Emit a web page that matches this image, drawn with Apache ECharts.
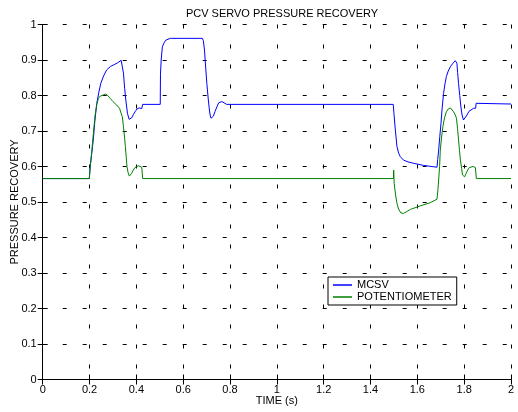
<!DOCTYPE html>
<html>
<head>
<meta charset="utf-8">
<script src="https://cdn.jsdelivr.net/npm/echarts@6/dist/echarts.min.js"></script>
<style>
html,body{margin:0;padding:0;background:#fff;}
#c{width:518px;height:412px;}
</style>
</head>
<body>
<div id="c"></div>
<script>
var titleText = 'PCV SERVO PRESSURE RECOVERY';
var xName = 'TIME (s)';
var yName = 'PRESSURE RECOVERY';
var seriesNames = ['MCSV', 'POTENTIOMETER'];

var mcsvT = [0,0.199,0.203,0.21,0.216,0.223,0.231,0.24,0.248,0.26,0.273,0.29,0.302,0.32,0.335,0.34,0.345,0.35,0.355,0.362,0.369,0.375,0.38,0.387,0.394,0.403,0.412,0.423,0.426,0.427,0.502,0.503,0.506,0.511,0.518,0.526,0.545,0.682,0.686,0.691,0.696,0.701,0.707,0.712,0.716,0.719,0.724,0.729,0.736,0.744,0.751,0.758,0.765,0.772,0.786,1.497,1.499,1.5,1.506,1.513,1.52,1.527,1.541,1.56,1.584,1.627,1.684,1.687,1.691,1.696,1.701,1.706,1.712,1.718,1.724,1.732,1.741,1.752,1.762,1.766,1.769,1.772,1.776,1.781,1.786,1.791,1.797,1.803,1.812,1.82,1.826,1.84,1.849,1.851,2.0];
var mcsvV = [0.566,0.566,0.6,0.64,0.675,0.73,0.778,0.81,0.834,0.855,0.872,0.882,0.886,0.892,0.899,0.895,0.863,0.82,0.787,0.75,0.733,0.733,0.737,0.746,0.754,0.762,0.765,0.763,0.763,0.775,0.775,0.86,0.9,0.937,0.948,0.956,0.961,0.961,0.955,0.928,0.88,0.834,0.79,0.759,0.742,0.736,0.736,0.742,0.755,0.768,0.779,0.783,0.783,0.78,0.775,0.775,0.78,0.75,0.703,0.656,0.638,0.628,0.618,0.613,0.609,0.603,0.598,0.62,0.646,0.685,0.722,0.765,0.806,0.833,0.853,0.869,0.881,0.891,0.898,0.897,0.891,0.865,0.834,0.8,0.768,0.745,0.731,0.733,0.745,0.755,0.759,0.764,0.764,0.778,0.776];

var potT = [0,0.199,0.203,0.21,0.216,0.224,0.231,0.238,0.245,0.252,0.269,0.278,0.288,0.3,0.316,0.328,0.335,0.34,0.345,0.35,0.353,0.357,0.36,0.365,0.37,0.375,0.38,0.387,0.394,0.402,0.409,0.416,0.423,0.426,0.427,1.498,1.499,1.5,1.501,1.507,1.513,1.52,1.53,1.541,1.555,1.57,1.612,1.655,1.684,1.688,1.691,1.695,1.698,1.703,1.709,1.716,1.724,1.732,1.741,1.748,1.755,1.762,1.767,1.772,1.776,1.78,1.784,1.789,1.793,1.802,1.808,1.815,1.822,1.829,1.838,1.848,1.851,1.852,2.0];
var potV = [0.566,0.566,0.6,0.645,0.69,0.745,0.775,0.792,0.798,0.801,0.804,0.8,0.792,0.783,0.773,0.764,0.759,0.74,0.712,0.68,0.656,0.625,0.599,0.582,0.573,0.574,0.581,0.59,0.597,0.601,0.602,0.601,0.598,0.598,0.566,0.566,0.59,0.592,0.553,0.52,0.496,0.48,0.469,0.468,0.473,0.479,0.489,0.498,0.508,0.535,0.562,0.6,0.646,0.68,0.712,0.737,0.754,0.762,0.765,0.762,0.754,0.745,0.736,0.705,0.675,0.645,0.618,0.595,0.576,0.571,0.58,0.59,0.597,0.601,0.6,0.597,0.597,0.566,0.566];

var xTickMin = 0, xTickMax = 2, xTickStep = 0.2;
var yTickMin = 0, yTickMax = 1, yTickStep = 0.1;

function pairs(t, v){ return t.map(function(x,i){ return [x, v[i]]; }); }
function fmt(v){ return String(Math.round(v*10)/10); }

var font = 'Liberation Sans, Arial, Helvetica, sans-serif';
var chart = echarts.init(document.getElementById('c'), null, {renderer:'canvas'});
var axisLineStyle = {color:'#000', width:1};
var gridDash = {color:'#000', width:1, type:[4,16]};

chart.setOption({
  animation:false,
  backgroundColor:'#fff',
  title:{text:titleText, left:277, top:3, textAlign:'center',
    textStyle:{fontFamily:font, fontSize:11, fontWeight:'normal', color:'#000'}},
  legend:{
    data:seriesNames, orient:'vertical', left:328, top:277,
    backgroundColor:'#fff', borderColor:'#000', borderWidth:1, borderRadius:0,
    padding:[2,5,2,5], itemGap:0, itemWidth:19, itemHeight:1.5, icon:'rect',
    textStyle:{fontFamily:font, fontSize:11, color:'#000', lineHeight:12}
  },
  grid:{left:42.7, right:7, top:24.5, bottom:32.5, containLabel:false, outerBoundsMode:'none'},
  xAxis:[{
    type:'value', min:xTickMin, max:xTickMax, interval:xTickStep,
    name:xName, nameLocation:'middle', nameGap:16, nameMoveOverlap:false,
    nameTextStyle:{fontFamily:font, fontSize:11, color:'#000'},
    axisLine:{show:true, lineStyle:axisLineStyle},
    axisTick:{show:true, inside:true, length:5, lineStyle:axisLineStyle},
    axisLabel:{fontFamily:font, fontSize:11, color:'#000', margin:5, formatter:fmt},
    splitLine:{show:true, lineStyle:gridDash}
  },{
    type:'value', position:'top', min:xTickMin, max:xTickMax, interval:xTickStep,
    axisLine:{show:true, lineStyle:axisLineStyle},
    axisTick:{show:true, inside:true, length:5, lineStyle:axisLineStyle},
    axisLabel:{show:false}, splitLine:{show:false}
  }],
  yAxis:[{
    type:'value', min:yTickMin, max:yTickMax, interval:yTickStep,
    name:yName, nameLocation:'middle', nameGap:22, nameRotate:90, nameMoveOverlap:false,
    nameTextStyle:{fontFamily:font, fontSize:11, color:'#000'},
    axisLine:{show:true, lineStyle:axisLineStyle},
    axisTick:{show:true, inside:true, length:5, lineStyle:axisLineStyle},
    axisLabel:{fontFamily:font, fontSize:11, color:'#000', margin:6, formatter:fmt},
    splitLine:{show:true, lineStyle:gridDash}
  },{
    type:'value', position:'right', min:yTickMin, max:yTickMax, interval:yTickStep,
    axisLine:{show:true, lineStyle:axisLineStyle},
    axisTick:{show:true, inside:true, length:5, lineStyle:axisLineStyle},
    axisLabel:{show:false}, splitLine:{show:false}
  }],
  series:[
    {name:seriesNames[0], type:'line', data:pairs(mcsvT, mcsvV), showSymbol:false, symbol:'none',
     lineStyle:{color:'#0000ff', width:1}, itemStyle:{color:'#0000ff'}, z:2},
    {name:seriesNames[1], type:'line', data:pairs(potT, potV), showSymbol:false, symbol:'none',
     lineStyle:{color:'#008000', width:1}, itemStyle:{color:'#008000'}, z:3}
  ]
});
</script>
</body>
</html>
